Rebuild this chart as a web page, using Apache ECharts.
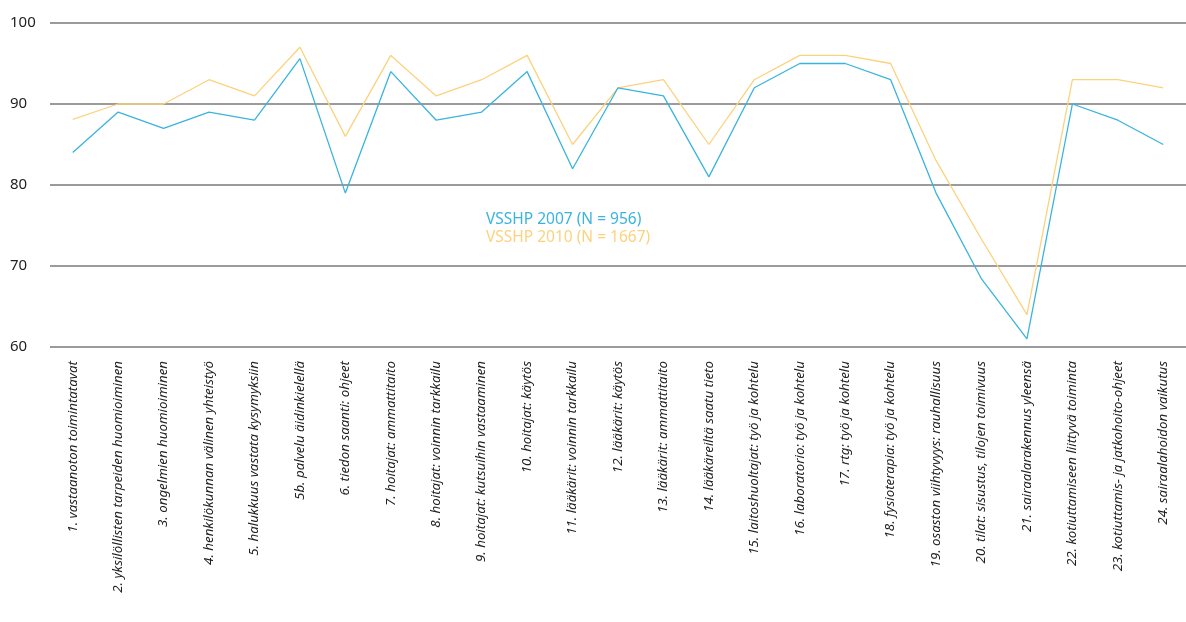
<!DOCTYPE html>
<html><head><meta charset="utf-8">
<script src="https://cdn.jsdelivr.net/npm/echarts@6/dist/echarts.min.js"></script>
<style>html,body{margin:0;padding:0;background:#fff}#c{width:1186px;height:622px}</style>
</head><body><div id="c"></div>
<script>
const categories = [
  "1. vastaanoton toimintatavat",
  "2. yksilöllisten tarpeiden huomioiminen",
  "3. ongelmien huomioiminen",
  "4. henkilökunnan välinen yhteistyö",
  "5. halukkuus vastata kysymyksiin",
  "5b. palvelu äidinkielellä",
  "6. tiedon saanti: ohjeet",
  "7. hoitajat: ammattitaito",
  "8. hoitajat: voinnin tarkkailu",
  "9. hoitajat: kutsuihin vastaaminen",
  "10. hoitajat: käytös",
  "11. lääkärit: voinnin tarkkailu",
  "12. lääkärit: käytös",
  "13. lääkärit: ammattitaito",
  "14. lääkäreiltä saatu tieto",
  "15. laitoshuoltajat: työ ja kohtelu",
  "16. laboratorio: työ ja kohtelu",
  "17. rtg: työ ja kohtelu",
  "18. fysioterapia: työ ja kohtelu",
  "19. osaston viihtyvyys: rauhallisuus",
  "20. tilat: sisustus, tilojen toimivuus",
  "21. sairaalarakennus yleensä",
  "22. kotiuttamiseen liittyvä toiminta",
  "23. kotiuttamis- ja jatkohoito-ohjeet",
  "24. sairaalahoidon vaikutus"
];
const series2007 = [84, 89, 87, 89, 88, 95.6, 79, 94, 88, 89, 94, 82, 92, 91, 81, 92, 95, 95, 93, 79, 68.4, 61, 90, 88, 85];
const series2010 = [88.1, 90, 90, 93, 91, 97, 86, 96, 91, 93, 96, 85, 92, 93, 85, 93, 96, 96, 95, 83, 73.3, 64, 93, 93, 92];
const name2007 = "VSSHP 2007 (N = 956)";
const name2010 = "VSSHP 2010 (N = 1667)";
const yTicks = [60, 70, 80, 90, 100];

const blue = "#3ab4de";
const orange = "#fcd27e";
const font = "Noto Sans";

const chart = echarts.init(document.getElementById('c'), null, {renderer: 'canvas'});
chart.setOption({
  animation: false,
  backgroundColor: '#fff',
  textStyle: {fontFamily: font},
  grid: {left: 50, right: -9, top: 23, bottom: 275, containLabel: false},
  legend: {
    orient: 'vertical', left: 476, top: 207, itemGap: 2, itemWidth: 0, itemHeight: 0,
    icon: 'none', selectedMode: false,
    textStyle: {fontSize: 15.5, fontFamily: font, padding: 0},
    data: [
      {name: name2007, textStyle: {color: blue}},
      {name: name2010, textStyle: {color: orange}}
    ]
  },
  xAxis: {
    type: 'category', data: categories, boundaryGap: true,
    axisLine: {show: false}, axisTick: {show: false}, splitLine: {show: false},
    axisLabel: {rotate: 90, interval: 0, margin: 14, fontSize: 13.3, fontStyle: 'italic', color: '#222', fontFamily: font}
  },
  yAxis: {
    type: 'value', min: yTicks[0], max: yTicks[yTicks.length - 1], interval: 10,
    axisLine: {show: false}, axisTick: {show: false},
    splitLine: {lineStyle: {color: '#7a7a7a', width: 1.5}},
    axisLabel: {align: 'left', margin: 40, fontSize: 15, color: '#222', fontFamily: font}
  },
  series: [
    {name: name2010, type: 'line', data: series2010, symbol: 'none', color: orange,
     lineStyle: {color: orange, width: 1.3}},
    {name: name2007, type: 'line', data: series2007, symbol: 'none', color: blue,
     lineStyle: {color: blue, width: 1.3}}
  ]
});
</script></body></html>
